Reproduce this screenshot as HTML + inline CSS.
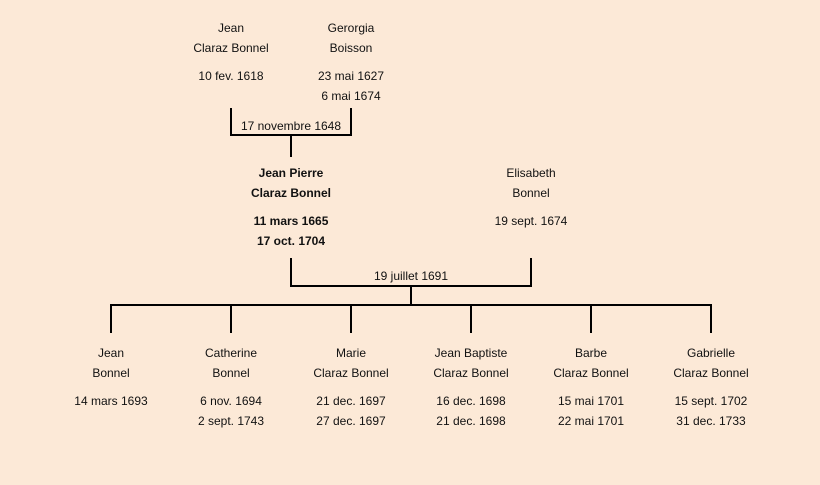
<!DOCTYPE html><html><head><style>
body{margin:0;width:820px;height:485px;background:#fce9d7;position:relative;overflow:hidden;font-family:"Comic Sans MS","Liberation Sans",sans-serif;font-size:12px;color:#111}
.t{position:absolute;width:160px;margin-left:-80px;text-align:center;line-height:20px;white-space:nowrap}
.b{font-weight:bold}
svg{position:absolute;left:0;top:0}
</style></head><body>
<svg width="820" height="485" stroke="#000" stroke-width="2" fill="none">
<path d="M231 108V135H351V108M291 135V157"/>
<path d="M291 258V286H531V258M411 286V305M110 305H712M111 305V333M231 305V333M351 305V333M471 305V333M591 305V333M711 305V333"/>
</svg>
<div class="t" style="left:231px;top:18px">Jean<br>Claraz Bonnel</div>
<div class="t" style="left:231px;top:66px">10 fev. 1618</div>
<div class="t" style="left:351px;top:18px">Gerorgia<br>Boisson</div>
<div class="t" style="left:351px;top:66px">23 mai 1627<br>6 mai 1674</div>
<div class="t" style="left:291px;top:116px;width:120px;margin-left:-60px">17 novembre 1648</div>
<div class="t b" style="left:291px;top:163px">Jean Pierre<br>Claraz Bonnel</div>
<div class="t b" style="left:291px;top:211px">11 mars 1665<br>17 oct. 1704</div>
<div class="t" style="left:531px;top:163px">Elisabeth<br>Bonnel</div>
<div class="t" style="left:531px;top:211px">19 sept. 1674</div>
<div class="t" style="left:411px;top:266px">19 juillet 1691</div>
<div class="t" style="left:111px;top:343px">Jean<br>Bonnel</div>
<div class="t" style="left:111px;top:391px">14 mars 1693</div>
<div class="t" style="left:231px;top:343px">Catherine<br>Bonnel</div>
<div class="t" style="left:231px;top:391px">6 nov. 1694<br>2 sept. 1743</div>
<div class="t" style="left:351px;top:343px">Marie<br>Claraz Bonnel</div>
<div class="t" style="left:351px;top:391px">21 dec. 1697<br>27 dec. 1697</div>
<div class="t" style="left:471px;top:343px">Jean Baptiste<br>Claraz Bonnel</div>
<div class="t" style="left:471px;top:391px">16 dec. 1698<br>21 dec. 1698</div>
<div class="t" style="left:591px;top:343px">Barbe<br>Claraz Bonnel</div>
<div class="t" style="left:591px;top:391px">15 mai 1701<br>22 mai 1701</div>
<div class="t" style="left:711px;top:343px">Gabrielle<br>Claraz Bonnel</div>
<div class="t" style="left:711px;top:391px">15 sept. 1702<br>31 dec. 1733</div>
</body></html>
